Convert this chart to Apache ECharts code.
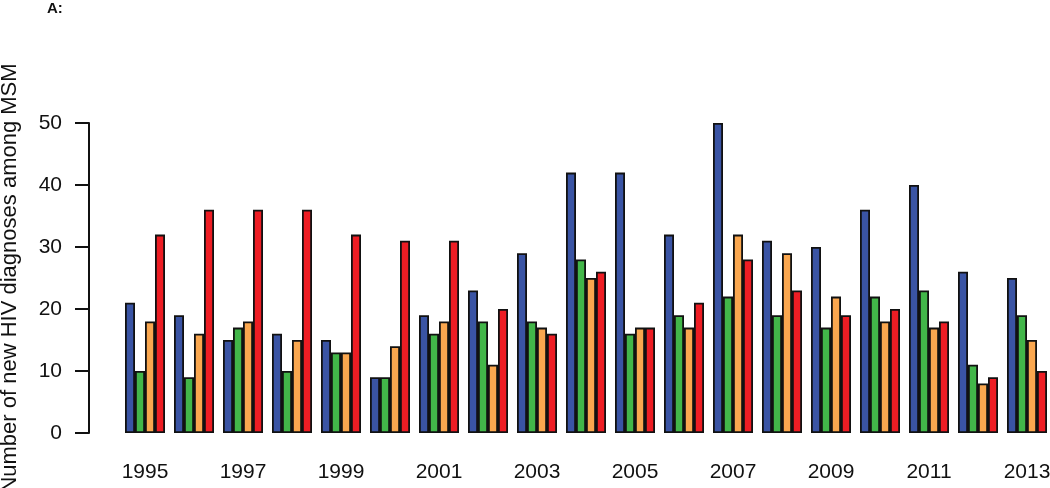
<!DOCTYPE html>
<html>
<head>
<meta charset="utf-8">
<script src="https://cdn.jsdelivr.net/npm/echarts@6/dist/echarts.min.js"></script>
<style>
html,body{margin:0;padding:0;background:#fff;}
#c{width:1050px;height:488px;}
</style>
</head>
<body>
<div id="c"></div>
<script>
const years = ['1995','1996','1997','1998','1999','2000','2001','2002','2003','2004','2005','2006','2007','2008','2009','2010','2011','2012','2013'];
const seriesBlue   = [21,19,15,16,15, 9,19,23,29,42,42,32,50,31,30,36,40,26,25];
const seriesGreen  = [10, 9,17,10,13, 9,16,18,18,28,16,19,22,19,17,22,23,11,19];
const seriesOrange = [18,16,18,15,13,14,18,11,17,25,17,17,32,29,22,18,17, 8,15];
const seriesRed    = [32,36,36,36,32,31,31,20,16,26,17,21,28,23,19,20,18, 9,10];
const yTicks = [0,10,20,30,40,50];
const colors = ['#3A54A4','#42B649','#FAA74F','#EE1D24'];

const FONT = 'Liberation Sans, Arial, Helvetica, sans-serif';
const chart = echarts.init(document.getElementById('c'), null, {renderer:'canvas'});
const mk = (data, i) => ({
  type:'bar', data, barWidth:10, barGap:'0%',
  itemStyle:{color:colors[i], borderColor:'#111', borderWidth:1.8},
  silent:true, animation:false
});
chart.setOption({
  animation:false,
  title:{text:'A:', left:47, top:1, padding:0, textStyle:{fontFamily:FONT, fontSize:15, fontWeight:'bold', color:'#111'}},
  grid:{left:120.5, top:123, width:931, bottom:55, containLabel:false, outerBoundsMode:'none'},
  xAxis:{
    type:'category', data:years,
    axisLine:{show:false}, axisTick:{show:false},
    axisLabel:{interval:1, margin:29, fontFamily:FONT, fontSize:21, color:'#111'}
  },
  yAxis:{
    type:'value', min:yTicks[0], max:yTicks[yTicks.length-1], interval:10, offset:31.5,
    name:'Number of new HIV diagnoses among MSM', nameLocation:'middle', nameGap:68,
    nameTextStyle:{fontFamily:FONT, fontSize:22, color:'#111'},
    axisLine:{show:true, lineStyle:{color:'#111', width:2}},
    axisTick:{show:true, length:14, lineStyle:{color:'#111', width:2}},
    splitLine:{show:false},
    axisLabel:{margin:27, fontFamily:FONT, fontSize:21, color:'#111'}
  },
  series:[mk(seriesBlue,0), mk(seriesGreen,1), mk(seriesOrange,2), mk(seriesRed,3)]
});
</script>
</body>
</html>
